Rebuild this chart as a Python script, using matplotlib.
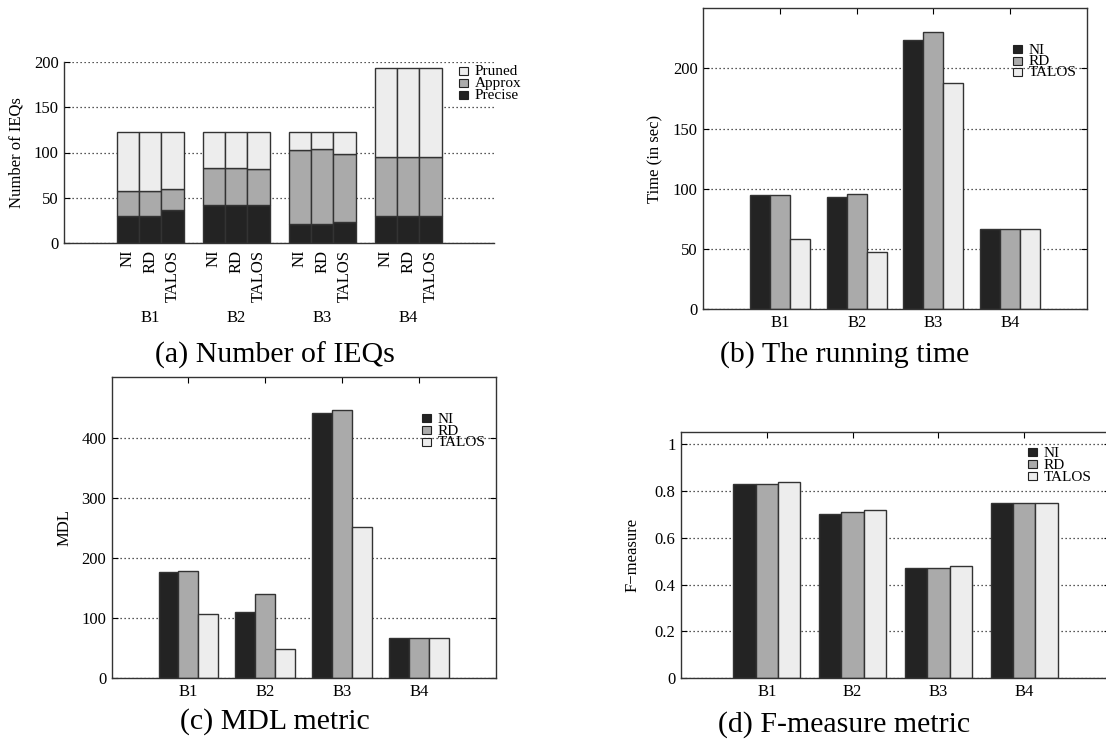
import numpy as np
import matplotlib
matplotlib.use("Agg")
import matplotlib.pyplot as plt
from matplotlib.patches import Rectangle

plt.rcParams['font.family'] = ['Liberation Serif', 'DejaVu Serif']

# data
groups = ['B1', 'B2', 'B3', 'B4']
methods = ['NI', 'RD', 'TALOS']

# (a) number of IEQs, one row per group, columns NI / RD / TALOS
ieq_precise = [[30, 30, 36], [42, 42, 42], [21, 21, 23], [30, 30, 30]]
ieq_approx = [[27, 27, 24], [41, 41, 40], [82, 83, 75], [65, 65, 65]]
ieq_pruned = [[66, 66, 63], [40, 40, 41], [20, 19, 25], [99, 99, 99]]

# (b) running time (sec)
time_ni = [95, 93, 224, 67]
time_rd = [95, 96, 230, 67]
time_talos = [58, 48, 188, 67]

# (c) MDL
mdl_ni = [177, 110, 440, 67]
mdl_rd = [178, 140, 445, 67]
mdl_talos = [106, 49, 252, 67]

# (d) F-measure
fm_ni = [0.83, 0.70, 0.47, 0.75]
fm_rd = [0.83, 0.71, 0.47, 0.75]
fm_talos = [0.84, 0.72, 0.48, 0.75]

colors = ['#232323', '#aaaaaa', '#ededed']
edge = '#333333'
W, H = 1106, 740
bw = 0.26
tick_fs = 12
key_fs = 11
cap_fs = 21.5

fig = plt.figure(figsize=(W / 100, H / 100), dpi=100)


def rect(l, t, r, b):
    return [l / W, 1 - b / H, (r - l) / W, (b - t) / H]


def style(ax, ymax, yticks, box=True):
    ax.set_xlim(0, 5)
    ax.set_ylim(0, ymax)
    ax.set_yticks(yticks)
    ax.yaxis.grid(True, color='#222222', linestyle=(0, (1, 2.2)), linewidth=0.9)
    ax.set_axisbelow(True)
    for s in ax.spines.values():
        s.set_linewidth(1.0)
        s.set_color('#333333')
    if box:
        ax.tick_params(direction='in', top=True, right=True, length=4,
                       width=0.8, labelsize=tick_fs, pad=4)
    else:
        ax.spines['top'].set_visible(False)
        ax.spines['right'].set_visible(False)
        ax.tick_params(axis='y', direction='in', length=4, width=0.8,
                       labelsize=tick_fs, pad=4)


def key(x0, y0, labels, step=12):
    for i, (lab, c) in enumerate(zip(labels, colors if labels[0] == 'NI' else colors[::-1])):
        yc = y0 + i * step
        fig.patches.append(Rectangle((x0 / W, 1 - (yc + 4) / H), 9 / W, 8 / H,
                                     transform=fig.transFigure, facecolor=c,
                                     edgecolor='#222222', linewidth=0.8))
        fig.text((x0 + 16) / W, 1 - (yc + 4.5) / H, lab, ha='left',
                 va='baseline', fontsize=key_fs)


def grouped(ax, series):
    x = np.arange(1, len(groups) + 1)
    for k, vals in enumerate(series):
        ax.bar(x + (k - 1) * bw, vals, width=bw, color=colors[k],
               edgecolor=edge, linewidth=1.0)
    ax.set_xticks(x)
    ax.set_xticklabels(groups)


# (a) stacked bars
ax_a = fig.add_axes(rect(64.3, 62.3, 494, 242.7))
style(ax_a, 200, [0, 50, 100, 150, 200], box=False)
pos, labs = [], []
prec = np.array(ieq_precise)
appr = np.array(ieq_approx)
prun = np.array(ieq_pruned)
for g in range(len(groups)):
    for k in range(len(methods)):
        xp = g + 1 + (k - 1) * bw
        pos.append(xp)
        labs.append(methods[k])
        ax_a.bar(xp, prec[g, k], width=bw, color=colors[0], edgecolor=edge, linewidth=1.0)
        ax_a.bar(xp, appr[g, k], bottom=prec[g, k], width=bw, color=colors[1],
                 edgecolor=edge, linewidth=1.0)
        ax_a.bar(xp, prun[g, k], bottom=prec[g, k] + appr[g, k], width=bw,
                 color=colors[2], edgecolor=edge, linewidth=1.0)
ax_a.set_xticks(pos)
ax_a.set_xticklabels(labs, rotation=90, fontsize=tick_fs, va='top')
ax_a.tick_params(axis='x', length=0, pad=5)
for g, name in enumerate(groups):
    ax_a.text(g + 1, -0.417, name, transform=ax_a.get_xaxis_transform(),
              ha='center', va='center', fontsize=tick_fs)
ax_a.text(-0.112, 0.5, 'Number of IEQs', transform=ax_a.transAxes,
          rotation=90, ha='center', va='center', fontsize=tick_fs)
key(458.5, 70.7, ['Pruned', 'Approx', 'Precise'])
fig.text(275 / W, 1 - 355 / H, '(a) Number of IEQs', ha='center', va='center', fontsize=cap_fs)

# (b) running time
ax_b = fig.add_axes(rect(703.3, 8.3, 1086.7, 309.3))
style(ax_b, 250, [0, 50, 100, 150, 200])
grouped(ax_b, [time_ni, time_rd, time_talos])
ax_b.text(-0.125, 0.5, 'Time (in sec)', transform=ax_b.transAxes,
          rotation=90, ha='center', va='center', fontsize=tick_fs)
key(1013, 49, methods, step=11.5)
fig.text(845 / W, 1 - 355 / H, '(b) The running time', ha='center', va='center', fontsize=cap_fs)

# (c) MDL
ax_c = fig.add_axes(rect(111.7, 377.3, 495.6, 678.3))
style(ax_c, 500, [0, 100, 200, 300, 400])
grouped(ax_c, [mdl_ni, mdl_rd, mdl_talos])
ax_c.text(-0.124, 0.5, 'MDL', transform=ax_c.transAxes,
          rotation=90, ha='center', va='center', fontsize=tick_fs)
key(421.5, 418.3, methods, step=11.7)
fig.text(275 / W, 1 - 721.5 / H, '(c) MDL metric', ha='center', va='center', fontsize=cap_fs)

# (d) F-measure
ax_d = fig.add_axes(rect(681, 432.3, 1110, 678.3))
style(ax_d, 1.05, [0, 0.2, 0.4, 0.6, 0.8, 1.0])
ax_d.set_yticklabels(['0', '0.2', '0.4', '0.6', '0.8', '1'])
grouped(ax_d, [fm_ni, fm_rd, fm_talos])
ax_d.text(-0.112, 0.5, 'F\u2212measure', transform=ax_d.transAxes,
          rotation=90, ha='center', va='center', fontsize=tick_fs)
key(1028, 452.3, methods, step=12)
fig.text(844 / W, 1 - 725 / H, '(d) F-measure metric', ha='center', va='center', fontsize=cap_fs)

fig.savefig('out.png', dpi=100)
